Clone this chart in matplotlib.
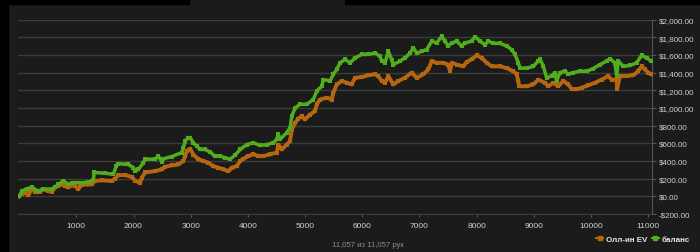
import matplotlib
matplotlib.use("Agg")
from matplotlib import pyplot as plt
from matplotlib.patches import Rectangle
from matplotlib.lines import Line2D
from matplotlib.ticker import FuncFormatter
import numpy as np

# Олл-ин EV (orange)
ev_hands = [0, 47, 135, 163, 222, 280, 367, 425, 512, 572, 629, 687, 746, 804, 862, 921,
            979, 1037, 1066, 1096, 1271, 1328, 1446, 1620, 1678, 1736, 1853, 1970, 2028,
            2115, 2145, 2202, 2377, 2494, 2552, 2669, 2785, 2872, 2902, 2931, 2989, 3047,
            3134, 3222, 3309, 3396, 3484, 3571, 3659, 3718, 3805, 3863, 3921, 4008, 4096,
            4183, 4271, 4387, 4505, 4533, 4592, 4679, 4737, 4767, 4825, 4882, 4941, 4999,
            5087, 5174, 5203, 5261, 5378, 5465, 5494, 5553, 5641, 5728, 5815, 5873, 5990,
            6106, 6223, 6281, 6340, 6398, 6456, 6543, 6631, 6747, 6864, 6952, 7067, 7155,
            7214, 7301, 7417, 7504, 7534, 7564, 7651, 7767, 7826, 7913, 8000, 8088, 8175,
            8263, 8408, 8525, 8641, 8700, 8728, 8746, 8874, 8991, 9078, 9195, 9253, 9340,
            9427, 9515, 9602, 9661, 9748, 9836, 9951, 10068, 10185, 10302, 10360, 10448,
            10455, 10505, 10622, 10739, 10826, 10885, 10942, 11000, 11057]
ev_values = [0, 25, 40, 10, 90, 45, 50, 80, 60, 50, 100, 115, 135, 115, 100, 125,
             115, 80, 115, 130, 135, 175, 180, 175, 200, 240, 240, 220, 175,
             155, 210, 270, 285, 305, 335, 350, 360, 400, 455, 510, 540, 470,
             420, 400, 380, 340, 325, 305, 285, 325, 340, 400, 425, 455, 475,
             455, 455, 475, 495, 585, 530, 585, 625, 755, 830, 880, 905, 870,
             925, 965, 1040, 1095, 1115, 1095, 1170, 1265, 1305, 1285, 1265, 1340, 1350,
             1370, 1380, 1360, 1305, 1285, 1360, 1265, 1305, 1340, 1400, 1340, 1380, 1435,
             1530, 1510, 1510, 1490, 1415, 1510, 1490, 1470, 1520, 1550, 1595, 1565, 1510,
             1470, 1470, 1450, 1415, 1380, 1305, 1245, 1245, 1265, 1320, 1285, 1245, 1285,
             1245, 1305, 1265, 1215, 1210, 1230, 1255, 1285, 1320, 1360, 1320, 1320,
             1210, 1360, 1360, 1370, 1415, 1470, 1435, 1400, 1380]

# баланс (green)
bal_hands = [0, 47, 135, 222, 337, 425, 572, 687, 774, 862, 921, 1096, 1211, 1299, 1311,
             1503, 1648, 1696, 1736, 1911, 1998, 2028, 2085, 2173, 2202, 2377, 2436, 2494,
             2522, 2669, 2844, 2872, 2902, 2959, 2989, 3047, 3106, 3164, 3251, 3339, 3426,
             3513, 3601, 3688, 3776, 3863, 3980, 4096, 4213, 4329, 4445, 4505, 4533, 4563,
             4679, 4737, 4767, 4825, 4912, 5029, 5144, 5203, 5291, 5319, 5436, 5494, 5553,
             5611, 5699, 5786, 5873, 5990, 6106, 6223, 6310, 6340, 6398, 6456, 6514, 6543,
             6660, 6747, 6835, 6893, 6952, 7039, 7126, 7214, 7301, 7389, 7446, 7504, 7564,
             7651, 7738, 7796, 7913, 7971, 8058, 8146, 8204, 8292, 8408, 8525, 8612, 8670,
             8728, 8758, 8874, 8991, 9078, 9108, 9166, 9224, 9311, 9369, 9398, 9456, 9544,
             9602, 9690, 9806, 9923, 10039, 10156, 10273, 10331, 10418, 10448, 10477, 10565,
             10681, 10797, 10885, 10972, 11057]
bal_values = [0, 60, 85, 100, 60, 85, 80, 135, 175, 135, 155, 155, 160, 185, 270,
              260, 250, 340, 370, 360, 325, 285, 305, 380, 420, 420, 455, 390,
              425, 450, 495, 550, 625, 665, 665, 605, 570, 530, 530, 500, 455,
              455, 435, 420, 465, 530, 585, 605, 575, 585, 605, 645, 700, 645,
              720, 775, 905, 1000, 1040, 1040, 1095, 1190, 1245, 1320, 1305, 1380, 1435,
              1510, 1550, 1510, 1565, 1605, 1605, 1620, 1585, 1530, 1510, 1640, 1545, 1490,
              1530, 1565, 1620, 1680, 1620, 1640, 1660, 1755, 1735, 1810, 1755, 1700, 1735,
              1755, 1700, 1735, 1755, 1805, 1755, 1715, 1755, 1730, 1730, 1700, 1660, 1605,
              1510, 1450, 1450, 1470, 1530, 1555, 1470, 1340, 1360, 1400, 1305, 1400, 1415,
              1380, 1400, 1415, 1415, 1445, 1490, 1530, 1555, 1510, 1360, 1530, 1470,
              1480, 1510, 1595, 1565, 1530]

y_ticks = [-200, 0, 200, 400, 600, 800, 1000, 1200, 1400, 1600, 1800, 2000]
x_ticks = [1000, 2000, 3000, 4000, 5000, 6000, 7000, 8000, 9000, 10000, 11000]
total_hands = 11057
ev_label = "Олл-ин EV"
bal_label = "баланс"

ev_color = "#b5660f"
bal_color = "#52ad1c"
bg = "#1b1b1b"
fam = ["Liberation Sans Narrow", "Liberation Sans", "DejaVu Sans"]

fig = plt.figure(figsize=(7, 2.53), dpi=100, facecolor=bg)
# black frame strips
fig.patches.append(Rectangle((0, 0), 8 / 700, 1, transform=fig.transFigure, color="black", zorder=0))
fig.patches.append(Rectangle((0, 1 - 5 / 253), 189 / 700, 5 / 253, transform=fig.transFigure, color="black", zorder=0))
fig.patches.append(Rectangle((345 / 700, 1 - 5 / 253), 355 / 700, 5 / 253, transform=fig.transFigure, color="black", zorder=0))

ax = fig.add_axes([18 / 700, 1 - 215 / 253, (652 - 18) / 700, (215 - 20.5) / 253])
ax.set_facecolor(bg)

ax.plot(ev_hands, ev_values, color=ev_color, lw=2.8, marker="s", ms=3.4, mew=0, zorder=3)
ax.plot(bal_hands, bal_values, color=bal_color, lw=2.5, marker="s", ms=3.2, mew=0, zorder=4)

ax.set_xlim(-20, 11066)
ax.set_ylim(-200, 2000)
ax.set_yticks(y_ticks)
ax.set_xticks(x_ticks)

def money(v, pos):
    if v < 0:
        return "-${:,.2f}".format(-v)
    return "${:,.2f}".format(v)

ax.yaxis.set_major_formatter(FuncFormatter(money))
ax.yaxis.tick_right()
ax.grid(axis="y", color="#3c3c3c", lw=1.0)
ax.set_axisbelow(True)
for s in ["top", "left"]:
    ax.spines[s].set_visible(False)
ax.spines["right"].set_color("#555555")
ax.spines["bottom"].set_color("#3c3c3c")
ax.tick_params(axis="y", colors="#555555", labelcolor="#d0d0d0", length=3, pad=2, labelsize=5.8)
ax.tick_params(axis="x", colors="#555555", labelcolor="#d0d0d0", length=2, pad=4, labelsize=6.0)
for lab in ax.get_xticklabels() + ax.get_yticklabels():
    lab.set_family(fam)

fig.text(368 / 700, 1 - 246 / 253, "{:,} из {:,} рук".format(total_hands, total_hands),
         color="#8a8a8a", fontsize=5.6, ha="center", va="center", family=fam)

# legend
handles = [Line2D([], [], color=ev_color, lw=1.5, marker="s", ms=3),
           Line2D([], [], color=bal_color, lw=1.5, marker="s", ms=3)]
leg = fig.legend(handles, [ev_label, bal_label], loc="center right",
                 bbox_to_anchor=(697 / 700, 1 - 240 / 253), ncol=2, frameon=False,
                 handlelength=0.9, handletextpad=0.3, columnspacing=0.6,
                 prop={"family": fam, "size": 5.8, "weight": "bold"})
for t in leg.get_texts():
    t.set_color("#e8e8e8")

fig.savefig("out.png", dpi=100, facecolor=bg)
